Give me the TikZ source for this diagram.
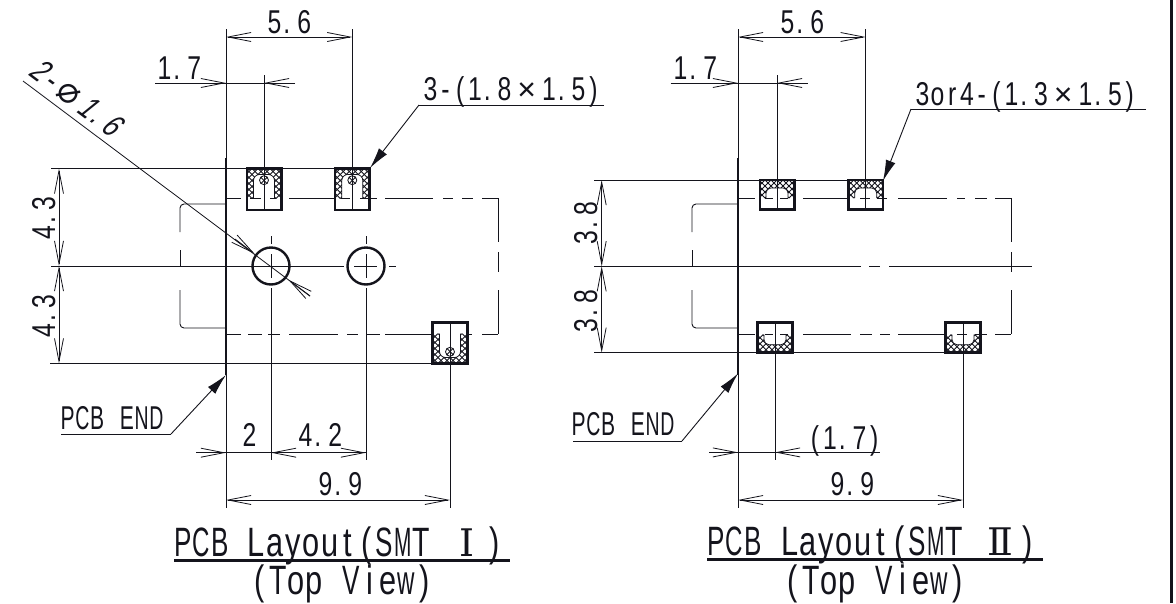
\documentclass[tikz,border=0pt]{standalone}
\usepackage{fontspec}
\usetikzlibrary{arrows.meta}
\newfontfamily\dwg[FakeStretch=0.75]{Liberation Sans}
\newfontfamily\dwgs[FakeStretch=0.75,FakeSlant=0.25]{Liberation Sans}
\newfontfamily\plainf{Liberation Sans}
\newfontfamily\dv{DejaVu Sans}
\newfontfamily\dvs{DejaVu Serif}
\definecolor{ink}{HTML}{14141C}
\newlength\cellw
\newcommand\mcell[1]{\setbox0\hbox{#1}\ifdim\wd0>0.95\cellw
  \makebox[\cellw][c]{\resizebox{0.95\cellw}{\ht0}{\copy0}}\else\makebox[\cellw][c]{\box0}\fi}
\def\monoloop#1{\ifx#1\relax\else\ifx#1.\makebox[\cellw][l]{\hspace{1.5pt}.}\else\mcell{#1}\fi\expandafter\monoloop\fi}
\newcommand\mono[1]{\monoloop#1\relax}
\newcommand\dblc[1]{\makebox[2\cellw][c]{#1}}
\newcommand\fsmall{\dwg\fontsize{33}{33}\selectfont\setlength\cellw{14.8pt}}
\newcommand\fslant{\dwgs\fontsize{33}{33}\selectfont\setlength\cellw{15.2pt}}
\newcommand\ftitle{\dwg\fontsize{41}{41}\selectfont\setlength\cellw{18.3pt}}
\newcommand\mtimes{\dblc{\plainf\fontsize{32}{32}\selectfont ×}}
\tikzset{
  ln/.style={draw=ink,line width=0.9pt},
  thk/.style={draw=ink,line width=2.8pt},
  oa/.style={ln,-{Straight Barb[length=23pt,width=9pt,line width=0.8pt]}},
  oab/.style={ln,{Straight Barb[length=23pt,width=9pt,line width=0.8pt]}-{Straight Barb[length=23pt,width=9pt,line width=0.8pt]}},
  fa/.style={ln,-{Latex[length=21pt,width=10pt]}},
  txt/.style={inner sep=0pt,anchor=base west,text=ink,font=\fsmall},
  ttl/.style={inner sep=0pt,anchor=base west,text=ink,font=\ftitle},
  ht/.style={draw=ink,line width=0.9pt}
}
\newcommand\myhatch{%
  \foreach \c in {-60,-54,...,18}{\draw[ht] (\c,0)--(\c+45,45);}
  \foreach \c in {-18,-12,...,60}{\draw[ht] (\c,0)--(\c-45,45);}
}
% tall pad: centre x, edge y, direction
\newcommand\mypadtall[3]{%
  \begin{scope}[shift={(#1,#2)},yscale=#3]
    \begin{scope}
      \clip (-17,0)--(17,0)--(17,30)--(10.5,30)--(10.5,12) arc[start angle=0,end angle=-90,radius=6]--(-4.5,6) arc[start angle=-90,end angle=-180,radius=6]--(-10.5,30)--(-17,30)--cycle;
      \myhatch
    \end{scope}
    \draw[ln,line width=0.7pt] (10.5,30)--(10.5,12) arc[start angle=0,end angle=-90,radius=6]--(-4.5,6) arc[start angle=-90,end angle=-180,radius=6]--(-10.5,30);
    \begin{scope}
      \clip (0,11.7) circle (4.5);
      \myhatch
    \end{scope}
    \draw[ln,line width=0.8pt] (0,11.7) circle (4.5);
  \end{scope}}
% short pad
\newcommand\mypadshort[3]{%
  \begin{scope}[shift={(#1,#2)},yscale=#3]
    \begin{scope}
      \clip (-17,0)--(17,0)--(17,18)--(11,18)--(11,13) arc[start angle=0,end angle=-90,radius=5]--(-6,8) arc[start angle=-90,end angle=-180,radius=5]--(-11,18)--(-17,18)--cycle;
      \myhatch
    \end{scope}
    \draw[ln,line width=0.7pt] (11,18)--(11,13) arc[start angle=0,end angle=-90,radius=5]--(-6,8) arc[start angle=-90,end angle=-180,radius=5]--(-11,18);
  \end{scope}}
\begin{document}
\begin{tikzpicture}[x=1pt,y=-1pt]
\useasboundingbox (0,0) rectangle (1176,603);
\fill[white] (0,0) rectangle (1176,603);
\draw[ink,line width=3pt] (1171,0)--(1171,603);

% ---------- LEFT VIEW ----------
\mypadtall{264}{168.5}{1}
\mypadtall{352.3}{168.5}{1}
\mypadtall{450}{363.5}{-1}
\draw[ln] (51,168.5)--(370,168.5);
\draw[ln] (50,363.5)--(467,363.5);
\draw[ln] (51,266)--(344,266) (354,266)--(377,266) (389,266)--(396,266);
\draw[ln] (226,29)--(226,158) (226,375)--(226,508);
\draw[thk] (226,158)--(226,375);
\draw[ln] (264,75)--(264,210);
\draw[ln] (352.3,29)--(352.3,210);
\draw[ln] (450,323)--(450,508);
\draw[ln] (271,236)--(271,244) (271,254)--(271,278) (271,288)--(271,460);
\draw[ln] (366,236)--(366,244) (366,254)--(366,278) (366,288)--(366,460);
\draw[ink,line width=2.4pt] (271,266) circle (18.5);
\draw[ink,line width=2.4pt] (366,266) circle (18.5);
\foreach \a/\b in {226/241,250/261,270/276,289/335,341/350,360/368,370/377,385/433,443/453,462/473,482/498}
  \draw[ln] (\a,198)--(\b,198);
\foreach \a/\b in {226/241,248/262,268/280,289/338,347/358,367/380,385/432,468/472,482/498}
  \draw[ln] (\a,334)--(\b,334);
\foreach \a/\b in {198/242,252/272,290/334}
  \draw[ln] (498,\a)--(498,\b);
\draw[ln,rounded corners=4pt] (226,204)--(180,204)--(180,232);
\draw[ln] (180,250)--(180,266);
\draw[ln,rounded corners=4pt] (180,290)--(180,328)--(226,328);
\draw[ink,line width=2.6pt] (247,168.5) rectangle (281.5,210);
\draw[ink,line width=2.6pt] (335,168.5) rectangle (369.7,210);
\draw[ink,line width=2.6pt] (432.7,322.7) rectangle (467.3,363.5);
\draw[oab] (352.3,37)--(226,37);
\draw[ln] (155,83)--(295,83);
\draw[oa] (195,83)--(226,83);
\draw[oa] (295,83)--(264,83);
\draw[oab] (59,168.5)--(59,266);
\draw[oab] (59,266)--(59,363.5);
\draw[ln] (196,452.7)--(366,452.7);
\draw[oa] (196,452.7)--(226,452.7);
\draw[oab] (271,452.7)--(366,452.7);
\draw[oab] (226,500)--(450,500);
\coordinate (lA) at (23,81);
\coordinate (lB) at (310,296);
\draw[ln,line width=0.8pt] (lA)--(lB);
\draw[oa] (235,239.1)--(254.5,253.7);
\draw[oa] (310,296)--(288.5,279.8);
\coordinate (t1) at (419,105);
\coordinate (t1e) at (604,105);
\coordinate (t1a) at (370,168);
\draw[ln] (t1e)--(t1);
\draw[fa] (t1)--(t1a);
\coordinate (e1) at (61,434);
\coordinate (e1b) at (171,434);
\coordinate (e1a) at (226,375);
\draw[ln] (e1)--(e1b);
\draw[fa] (e1b)--(e1a);
\node[txt] (a56) at (267,33) {\mono{5.6}};
\node[txt] (a17) at (157,79) {\mono{1.7}};
\node[txt,anchor=base] (a43a) at (55,218) [rotate=90] {\mono{4.3}};
\node[txt,anchor=base] (a43b) at (55,316) [rotate=90] {\mono{4.3}};
\node[txt] (a3x) at (423,100.5) {\mono{3-(1.8}\mtimes\mono{1.5)}};
\node[txt,anchor=base,font=\fslant] (adia) at (69,106) [rotate=-37] {\mono{2-}\dblc{\dv\fontsize{36}{36}\selectfont ⌀}\mono{1.6}};
\node[txt] (aend) at (60,429) {\mono{PCB~END}};
\node[txt] (a2) at (242,446.5) {\mono{2}};
\node[txt] (a42) at (298,446.5) {\mono{4.2}};
\node[txt] (a99) at (318,495.5) {\mono{9.9}};
\node[ttl] (at1) at (174,556) {\mono{PCB~Layout(SMT~}\dblc{\dvs\fontsize{38}{38}\selectfont Ⅰ}\mono{)}};
\node[ttl,anchor=base] (at2) at (342,594) {\mono{(Top~View)}};
\draw[ink,line width=2.6pt] (174,560.7)--(510,560.7);

% ---------- RIGHT VIEW ----------
\mypadshort{777}{180}{1}
\mypadshort{865.7}{180}{1}
\mypadshort{775}{352.7}{-1}
\mypadshort{963}{352.7}{-1}
\draw[ln] (594,180)--(883,180);
\draw[ln] (594,352.7)--(980.7,352.7);
\draw[ln] (594,266.3)--(860.7,266.3) (869,266.3)--(880,266.3) (889,266.3)--(1032,266.3);
\draw[ln] (738,29)--(738,158) (738,375)--(738,508);
\draw[thk] (738,158)--(738,375);
\draw[ln] (777,75)--(777,209.7);
\draw[ln] (865.7,29)--(865.7,209.7);
\draw[ln] (775,322.7)--(775,460);
\draw[ln] (963,322.7)--(963,508);
\foreach \a/\b in {738/755,765/773,780/788,803/850,860/870,877/887,898/947,957/965,975/987,995/1011}
  \draw[ln] (\a,198)--(\b,198);
\foreach \a/\b in {738/755,765/773,780/788,803/851,860/872,880/890,898/945,957/967,975/987,995/1011}
  \draw[ln] (\a,334)--(\b,334);
\foreach \a/\b in {198/242,252/272,290/334}
  \draw[ln] (1011,\a)--(1011,\b);
\draw[ln,rounded corners=4pt] (738,204)--(692,204)--(692,232);
\draw[ln] (692,250)--(692,266);
\draw[ln,rounded corners=4pt] (692,290)--(692,328)--(738,328);
\draw[ink,line width=2.6pt] (760,180) rectangle (794.3,209.7);
\draw[ink,line width=2.6pt] (848.3,180) rectangle (883,209.7);
\draw[ink,line width=2.6pt] (757.7,322.7) rectangle (792.3,352.7);
\draw[ink,line width=2.6pt] (945.7,322.7) rectangle (980.7,352.7);
\draw[oab] (865.7,37)--(738,37);
\draw[ln] (670.7,83)--(807.7,83);
\draw[oa] (710,83)--(738,83);
\draw[oa] (807.7,83)--(777,83);
\draw[oab] (601.7,180)--(601.7,266.3);
\draw[oab] (601.7,266.3)--(601.7,352.7);
\draw[ln] (709,452.4)--(880,452.4);
\draw[oa] (709,452.4)--(738,452.4);
\draw[oa] (805,452.4)--(775,452.4);
\draw[oab] (738,500)--(963,500);
\coordinate (t2) at (911,109);
\coordinate (t2e) at (1146,109);
\coordinate (t2a) at (883,181);
\draw[ln] (t2e)--(t2);
\draw[fa] (t2)--(t2a);
\coordinate (e2) at (573,441);
\coordinate (e2b) at (682,441);
\coordinate (e2a) at (738,373.5);
\draw[ln] (e2)--(e2b);
\draw[fa] (e2b)--(e2a);
\node[txt] (b56) at (780,33) {\mono{5.6}};
\node[txt] (b17) at (673,79) {\mono{1.7}};
\node[txt,anchor=base] (b38a) at (597,223) [rotate=90] {\mono{3.8}};
\node[txt,anchor=base] (b38b) at (597,311) [rotate=90] {\mono{3.8}};
\node[txt] (b3x) at (915,105) {\mono{3or4-(1.3}\mtimes\mono{1.5)}};
\node[txt] (bend) at (571,435.5) {\mono{PCB~END}};
\node[txt] (b17p) at (807.5,449) {\mono{(1.7)}};
\node[txt] (b99) at (830,495) {\mono{9.9}};
\node[ttl] (bt1) at (707,555.5) {\mono{PCB~Layout(SMT~}\dblc{\dvs\fontsize{38}{38}\selectfont Ⅱ}\mono{)}};
\node[ttl,anchor=base] (bt2) at (875,594) {\mono{(Top~View)}};
\draw[ink,line width=2.6pt] (707,559.6)--(1043,559.6);
\end{tikzpicture}
\end{document}
